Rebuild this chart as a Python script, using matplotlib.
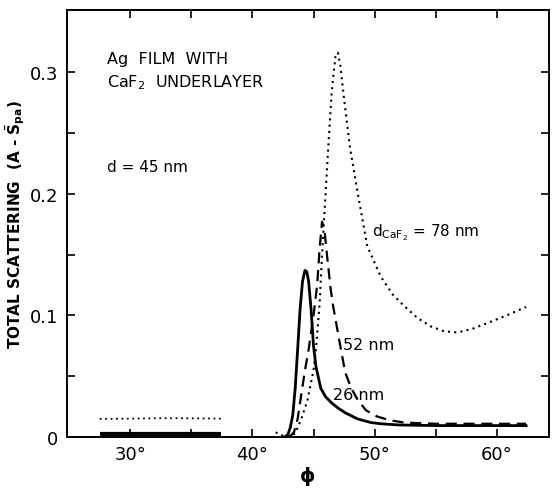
import numpy as np
import matplotlib
matplotlib.use('Agg')
import matplotlib.pyplot as plt
from matplotlib.ticker import FixedLocator, FixedFormatter

# flat part at small angles (27.5 - 37.4 deg)
phi_flat = [27.5, 30.0, 32.5, 35.0, 37.4]
low_flat = [0.0025, 0.0025, 0.0025, 0.0025, 0.0025]
dot_flat = [0.0150, 0.0152, 0.0156, 0.0155, 0.0152]

# d_CaF2 = 26 nm (solid)
phi_26 = [42.6, 42.9, 43.1, 43.3, 43.5, 43.7, 43.9, 44.1, 44.3, 44.45, 44.6, 44.8,
          45.0, 45.2, 45.6, 46.0, 46.5, 47.0, 47.6, 48.6, 49.7, 50.5, 52.0, 55.0,
          58.0, 62.4]
sca_26 = [0.0, 0.002, 0.008, 0.018, 0.040, 0.072, 0.105, 0.128, 0.137, 0.136, 0.128, 0.105,
          0.075, 0.058, 0.040, 0.033, 0.028, 0.024, 0.020, 0.015, 0.012, 0.011, 0.010, 0.0095,
          0.0095, 0.0095]

# d_CaF2 = 52 nm (dashed)
phi_52 = [43.0, 43.4, 43.7, 44.0, 44.3, 44.6, 45.0, 45.3, 45.5, 45.7, 45.9, 46.1,
          46.4, 46.6, 47.1, 47.6, 48.1, 48.6, 49.3, 50.2, 51.2, 52.4, 55.0, 58.0, 62.4]
sca_52 = [0.0, 0.004, 0.015, 0.035, 0.055, 0.072, 0.100, 0.125, 0.155, 0.177, 0.170, 0.150,
          0.122, 0.108, 0.080, 0.053, 0.040, 0.031, 0.022, 0.017, 0.014, 0.012, 0.011, 0.011, 0.011]

# d_CaF2 = 78 nm (dotted)
phi_78 = [41.9, 42.3, 42.7, 43.1, 43.5, 44.0, 44.5, 45.0, 45.2, 45.5, 45.7, 45.9,
          46.2, 46.5, 46.8, 47.0, 47.2, 47.5, 48.0, 48.7, 49.4, 50.5, 51.5, 52.4,
          53.5, 54.6, 55.7, 56.8, 58.0, 59.3, 60.8, 62.4]
sca_78 = [0.004, 0.002, 0.0005, 0.001, 0.003, 0.015, 0.030, 0.055, 0.072, 0.110, 0.150, 0.185,
          0.237, 0.285, 0.313, 0.316, 0.305, 0.278, 0.237, 0.196, 0.157, 0.132, 0.117, 0.108,
          0.098, 0.091, 0.087, 0.086, 0.089, 0.094, 0.100, 0.107]

xticks = [30, 40, 50, 60]
xtick_labels = ['30°', '40°', '50°', '60°']
yticks = [0, 0.1, 0.2, 0.3]
ytick_labels = ['0', '0.1', '0.2', '0.3']

fig = plt.figure(figsize=(5.52, 4.89), dpi=100)
ax = fig.add_axes([0.121, 0.104, 0.874, 0.8735])

ax.plot(phi_flat, low_flat, color='black', lw=3.0, solid_capstyle='butt')
ax.plot(phi_flat, dot_flat, color='black', lw=1.3, linestyle=(0, (1, 2)))

ax.plot(phi_26, sca_26, color='black', lw=2.0)
ax.plot(phi_52, sca_52, color='black', lw=1.6, linestyle=(0, (5, 3)))
ax.plot(phi_78, sca_78, color='black', lw=1.5, linestyle=(0, (1, 2)))

ax.set_xlim(24.8, 64.3)
ax.set_ylim(0, 0.351)

ax.xaxis.set_major_locator(FixedLocator(xticks))
ax.xaxis.set_major_formatter(FixedFormatter(xtick_labels))
ax.xaxis.set_minor_locator(FixedLocator([35, 45, 55]))
ax.yaxis.set_major_locator(FixedLocator(yticks))
ax.yaxis.set_major_formatter(FixedFormatter(ytick_labels))
ax.yaxis.set_minor_locator(FixedLocator([0.05, 0.15, 0.25]))
ax.tick_params(which='both', direction='in', top=True, right=True, length=6, width=1.2,
               labelsize=13, pad=6)
for s in ax.spines.values():
    s.set_linewidth(1.4)

ax.set_xlabel('ϕ', fontsize=14, fontweight='bold')
ax.xaxis.set_label_coords(0.5, -0.068)
ax.set_ylabel(r'TOTAL SCATTERING  (A - $\bar{\mathbf{S}}_{\mathbf{pa}}$)', fontsize=11,
              fontweight='bold')
ax.yaxis.set_label_coords(-0.083, 0.5)

ax.text(28.1, 0.311, 'Ag  FILM  WITH', fontsize=11.5, va='center', ha='left')
ax.text(28.1, 0.292, r'CaF$_2$  UNDERLAYER', fontsize=11.5, va='center', ha='left')
ax.text(28.1, 0.222, 'd = 45 nm', fontsize=11, va='center', ha='left')
ax.text(49.8, 0.169, r'd$_{\mathrm{CaF}_2}$ = 78 nm', fontsize=11, va='center', ha='left')
ax.text(47.4, 0.076, '52 nm', fontsize=11.5, va='center', ha='left')
ax.text(46.6, 0.035, '26 nm', fontsize=11.5, va='center', ha='left')

fig.savefig('out.png', dpi=100)
